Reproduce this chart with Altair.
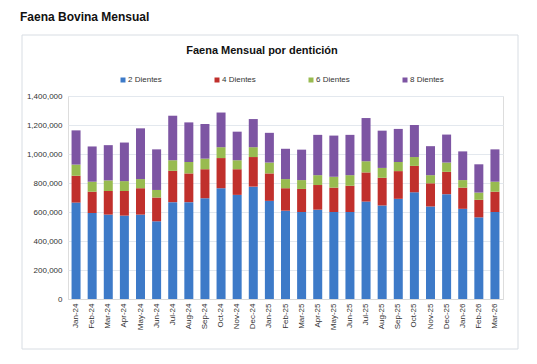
import altair as alt
import pandas as pd

months = ["Jan-24", "Feb-24", "Mar-24", "Apr-24", "May-24", "Jun-24", "Jul-24", "Aug-24", "Sep-24",
          "Oct-24", "Nov-24", "Dec-24", "Jan-25", "Feb-25", "Mar-25", "Apr-25", "May-25", "Jun-25",
          "Jul-25", "Aug-25", "Sep-25", "Oct-25", "Nov-25", "Dec-25", "Jan-26", "Feb-26", "Mar-26"]

dientes2 = [665000, 593000, 582000, 575000, 582000, 536000, 668000, 668000, 695000,
            764000, 718000, 775000, 677000, 609000, 600000, 616000, 600000, 600000,
            672000, 645000, 691000, 736000, 638000, 723000, 622000, 563000, 600000]
dientes4 = [185000, 147000, 163000, 170000, 182000, 164000, 216000, 198000, 200000,
            208000, 177000, 204000, 189000, 155000, 159000, 170000, 168000, 181000,
            201000, 191000, 191000, 182000, 160000, 154000, 146000, 121000, 140000]
dientes6 = [77000, 69000, 73000, 68000, 63000, 52000, 73000, 79000, 73000,
            75000, 62000, 68000, 75000, 63000, 61000, 68000, 75000, 73000,
            77000, 68000, 63000, 61000, 56000, 64000, 52000, 50000, 69000]
dientes8 = [236000, 243000, 243000, 266000, 350000, 280000, 307000, 273000, 239000,
            239000, 197000, 194000, 205000, 209000, 210000, 278000, 284000, 278000,
            298000, 257000, 228000, 221000, 200000, 193000, 198000, 195000, 223000]

series = ["2 Dientes", "4 Dientes", "6 Dientes", "8 Dientes"]
colors = ["#3d7ac8", "#c0302c", "#98bb50", "#7d55a3"]
y_ticks = [0, 200000, 400000, 600000, 800000, 1000000, 1200000, 1400000]

rows = []
for name, vals in zip(series, [dientes2, dientes4, dientes6, dientes8]):
    for m, v in zip(months, vals):
        rows.append({"mes": m, "serie": name, "valor": v, "orden": series.index(name)})
df = pd.DataFrame(rows)

FONT = "Liberation Sans"

box = alt.Chart(pd.DataFrame({"a": [0]})).mark_rect(
    fillOpacity=0, stroke="#d8dde3", strokeWidth=1
).encode(
    x=alt.value(-46), x2=alt.value(450), y=alt.value(-61), y2=alt.value(253)
)

bars = alt.Chart(df).mark_bar(size=9).encode(
    x=alt.X("mes:N", sort=months, title=None,
            scale=alt.Scale(paddingInner=0.44, paddingOuter=0.22),
            axis=alt.Axis(labelAngle=-90, labelFontSize=8, labelColor="#333333",
                          labelFont=FONT, ticks=False, domain=True, domainColor="#d9d9d9",
                          labelPadding=4, labelBaseline="middle")),
    y=alt.Y("valor:Q", stack="zero", title=None,
            scale=alt.Scale(domain=[0, 1400000], nice=False),
            axis=alt.Axis(values=y_ticks, format=",.0f", labelFontSize=8, labelColor="#333333",
                          labelFont=FONT, ticks=False, domain=False, gridColor="#e3e8ee",
                          labelPadding=6)),
    color=alt.Color("serie:N", sort=series, title=None,
                    scale=alt.Scale(domain=series, range=colors),
                    legend=alt.Legend(orient="none", legendX=51, legendY=-20,
                                      direction="horizontal", columns=4,
                                      symbolType="square", symbolSize=25,
                                      symbolStrokeWidth=0, labelFontSize=8,
                                      labelFont=FONT, labelColor="#333333",
                                      columnPadding=51, gridAlign="all",
                                      symbolOffset=0, labelOffset=1)),
    order=alt.Order("orden:Q", sort="ascending"),
)

title_outer = alt.Chart(pd.DataFrame({"t": ["Faena Bovina Mensual"]})).mark_text(
    align="left", baseline="middle", font=FONT, fontSize=12, fontWeight="bold", color="#111111"
).encode(x=alt.value(-48), y=alt.value(-79), text="t:N")

title_inner = alt.Chart(pd.DataFrame({"t": ["Faena Mensual por dentición"]})).mark_text(
    align="center", baseline="middle", font=FONT, fontSize=11, fontWeight="bold", color="#111111"
).encode(x=alt.value(194), y=alt.value(-45), text="t:N")

chart = alt.layer(box, bars, title_outer, title_inner).properties(
    width=435, height=203,
    autosize=alt.AutoSizeParams(type="none"),
    padding={"left": 60, "top": 88, "right": 26, "bottom": 60},
).configure_view(stroke=None).configure(background="white")

chart.save("out.html", embed_options={"renderer": "svg", "actions": False})
